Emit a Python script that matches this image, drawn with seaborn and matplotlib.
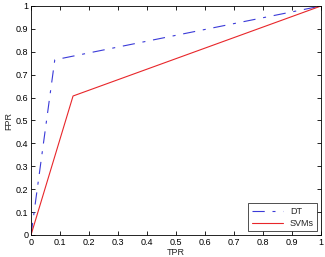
import numpy as np
import pandas as pd
import seaborn as sns
import matplotlib
matplotlib.use("Agg")
import matplotlib.pyplot as plt

# ROC points
dt_x = [0.0, 0.082, 1.0]
dt_y = [0.0, 0.765, 1.0]
svm_x = [0.0, 0.145, 1.0]
svm_y = [0.0, 0.607, 1.0]
ticks = [0, 0.1, 0.2, 0.3, 0.4, 0.5, 0.6, 0.7, 0.8, 0.9, 1]
tick_labels = ["0", "0.1", "0.2", "0.3", "0.4", "0.5", "0.6", "0.7", "0.8", "0.9", "1"]

sns.set_theme(style="white")
plt.rcParams['font.family'] = ['Liberation Sans', 'DejaVu Sans']

df = pd.concat([
    pd.DataFrame({"TPR": dt_x, "FPR": dt_y, "model": "DT"}),
    pd.DataFrame({"TPR": svm_x, "FPR": svm_y, "model": "SVMs"}),
])

fig = plt.figure(figsize=(3.25, 2.57), dpi=100)
ax = fig.add_axes([31/325, 22/257, 290/325, 229/257])

sns.lineplot(data=df, x="TPR", y="FPR", hue="model", style="model",
             palette={"DT": "#3a3ad8", "SVMs": "#e8262a"},
             dashes={"DT": (11, 7, 2.7, 7), "SVMs": ""},
             linewidth=0.8, ax=ax, legend=True)

ax.set_xlim(0, 1)
ax.set_ylim(0, 1)
ax.set_xticks(ticks)
ax.set_xticklabels(tick_labels)
ax.set_yticks(ticks)
ax.set_yticklabels(tick_labels)
ax.tick_params(direction="in", length=3, width=0.6, labelsize=6.5, pad=2,
               top=True, right=True, bottom=True, left=True, colors="black")
for s in ax.spines.values():
    s.set_color("black")
    s.set_linewidth(0.6)
ax.set_xlabel("TPR", fontsize=6.5, labelpad=1)
ax.set_ylabel("FPR", fontsize=6.5, labelpad=2)

leg = ax.legend(loc="lower right", fontsize=6.5, frameon=True, fancybox=False,
                edgecolor="black", borderaxespad=0.4, handlelength=3.4,
                labelspacing=0.3, borderpad=0.4)
leg.get_frame().set_linewidth(0.6)

fig.savefig("out.png", dpi=100, facecolor="white")
